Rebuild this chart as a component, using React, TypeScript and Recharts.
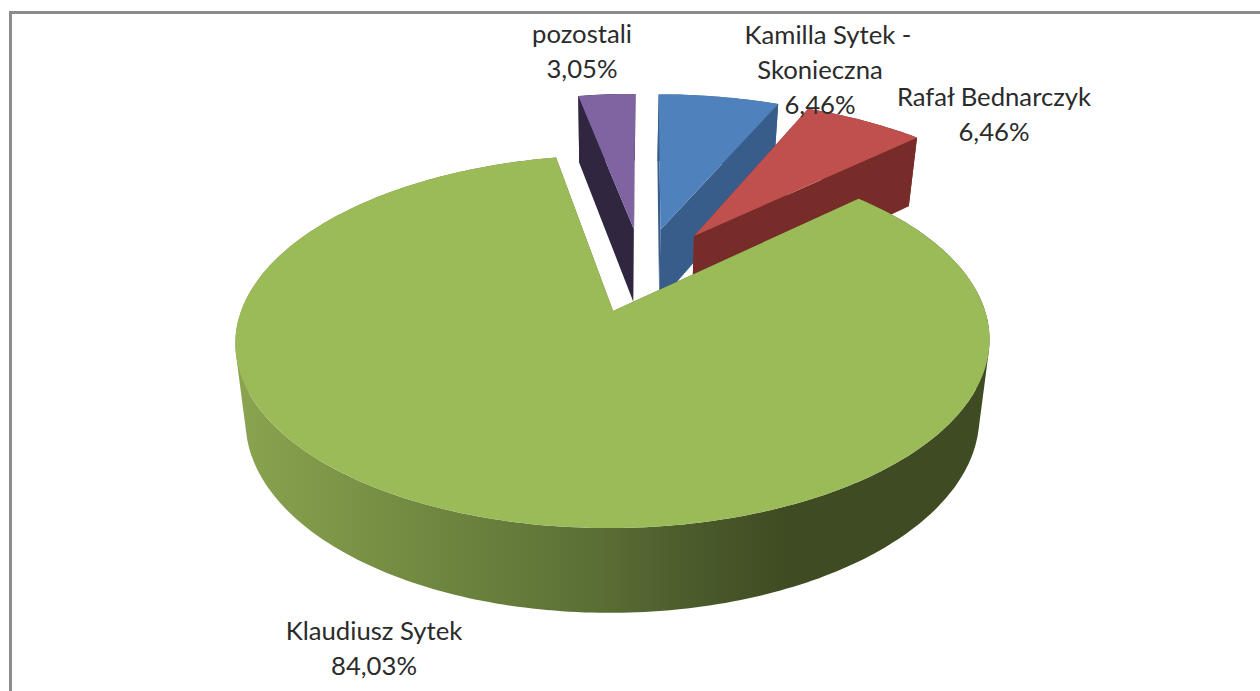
import React from "react";
import { PieChart, Pie, Cell } from "recharts";

const names = ["Kamilla Sytek - Skonieczna", "Rafał Bednarczyk", "Klaudiusz Sytek", "pozostali"];
const shares = [6.46, 6.46, 84.03, 3.05];
const nameLines = [["Kamilla Sytek -", "Skonieczna"], ["Rafał Bednarczyk"], ["Klaudiusz Sytek"], ["pozostali"]];

const topColors = ["#4f81bd", "#c0504d", "#9bbb59", "#8064a2"];
const sideColors = ["#385d8a", "#772c2a", "url(#greenWall)", "#312640"];

// where each label is centred, first baseline
const labelSpots = [
  { x: 820, y: 44 },
  { x: 994, y: 106 },
  { x: 374, y: 640 },
  { x: 582, y: 43 },
];
const lineStep = 35;

const data = names.map((name, i) => ({ name, value: shares[i] }));

// fake 3D: unit disc coords -> screen with a bit of perspective
const squash = 0.488;
const persp = 0.1636;
const skew = 25;
const depth = 76;
const bottomScale = 0.973;
const explodeU = 0.26;
const explodeV = 0.25;
const pieShiftU = 0.0796;
const pieShiftV = -0.238;

const rad = (d: number) => (d * Math.PI) / 180;

const Slice3D = (props: any) => {
  const { cx, cy, outerRadius, startAngle, endAngle, fill, index } = props;
  const mid = rad(90 - (startAngle + endAngle) / 2);
  const ou = pieShiftU + explodeU * Math.sin(mid);
  const ov = pieShiftV - explodeV * Math.cos(mid);

  const project = (u: number, v: number, low: boolean) => {
    const w = 1 - persp * v;
    const px = (outerRadius * u) / w + skew * (w - 1);
    const py = (outerRadius * squash * v) / w;
    if (!low) return [cx + px, cy + py];
    return [cx + px * bottomScale, cy + py + depth / Math.pow(w, 0.61)];
  };
  const onRim = (deg: number, low: boolean) => {
    const a = rad(90 - deg);
    return project(ou + Math.sin(a), ov - Math.cos(a), low);
  };
  const toPath = (pts: number[][]) =>
    "M" + pts.map((p) => p[0].toFixed(1) + "," + p[1].toFixed(1)).join("L") + "Z";

  const rimAngles: number[] = [];
  const steps = Math.max(2, Math.ceil(Math.abs(startAngle - endAngle)));
  for (let i = 0; i <= steps; i++) rimAngles.push(startAngle + ((endAngle - startAngle) * i) / steps);

  const topRim = rimAngles.map((a) => onRim(a, false));
  const lowRim = rimAngles.map((a) => onRim(a, true));
  const apex = project(ou, ov, false);
  const apexLow = project(ou, ov, true);

  // wall as small quads, all wound the same way or the front and back cancel out
  let wall = "";
  for (let i = 0; i < steps; i++) {
    const quad = [topRim[i], topRim[i + 1], lowRim[i + 1], lowRim[i]];
    let area = 0;
    quad.forEach((p, k) => {
      const q = quad[(k + 1) % 4];
      area += p[0] * q[1] - q[0] * p[1];
    });
    wall += toPath(area < 0 ? [...quad].reverse() : quad);
  }

  return (
    <g>
      <path d={wall} fill={sideColors[index]} />
      <path d={toPath([apex, topRim[0], lowRim[0], apexLow])} fill={sideColors[index]} />
      <path d={toPath([apex, topRim[steps], lowRim[steps], apexLow])} fill={sideColors[index]} />
      <path d={toPath([apex, ...topRim])} fill={fill} />
    </g>
  );
};

const renderLabel = (props: any) => {
  const { index, value } = props;
  const spot = labelSpots[index];
  const lines = [...nameLines[index], value.toFixed(2).replace(".", ",") + "%"];
  return (
    <text key={index} x={spot.x} y={spot.y} textAnchor="middle" fill="#2b2b2b" fontFamily="Lato" fontSize={25.7}>
      {lines.map((line, i) => (
        <tspan key={i} x={i === 0 && index === 0 ? spot.x + 8 : spot.x} y={spot.y + i * lineStep}>
          {line}
        </tspan>
      ))}
    </text>
  );
};

export default function App() {
  return (
    <div style={{ position: "absolute", left: 0, top: 0, width: 1260, height: 691, background: "#fff", overflow: "hidden" }}>
      <div
        style={{
          position: "absolute",
          left: 9,
          top: 11,
          right: 0,
          bottom: 0,
          borderLeft: "3px solid #8c8c8c",
          borderTop: "3px solid #8c8c8c",
        }}
      />
      <PieChart width={1260} height={691} margin={{ top: 0, right: 0, bottom: 0, left: 0 }} style={{ position: "absolute", left: 0, top: 0 }}>
        <defs>
          <linearGradient id="greenWall" gradientUnits="userSpaceOnUse" x1={236} y1={0} x2={800} y2={0}>
            <stop offset="0" stopColor="#8ba450" />
            <stop offset="0.29" stopColor="#748c42" />
            <stop offset="0.645" stopColor="#5a6e35" />
            <stop offset="0.82" stopColor="#4a5a2b" />
            <stop offset="0.98" stopColor="#3f4b22" />
          </linearGradient>
        </defs>
        <Pie
          data={data}
          dataKey="value"
          nameKey="name"
          cx={613}
          cy={311}
          outerRadius={372}
          startAngle={90}
          endAngle={-270}
          stroke="none"
          isAnimationActive={false}
          labelLine={false}
          label={renderLabel}
          shape={Slice3D}
        >
          {data.map((d, i) => (
            <Cell key={d.name} fill={topColors[i]} />
          ))}
        </Pie>
      </PieChart>
    </div>
  );
}
